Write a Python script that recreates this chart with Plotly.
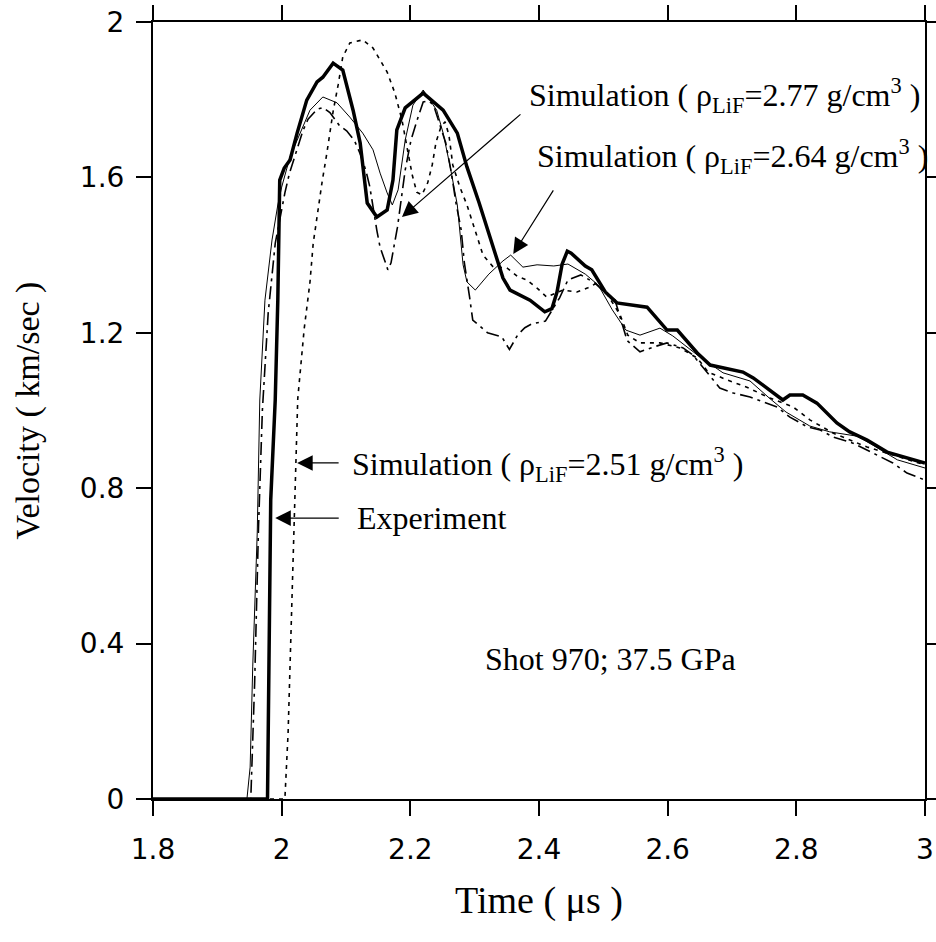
import plotly.graph_objects as go

# Experiment (thick solid)
exp_t = [1.80, 1.978, 1.983, 1.990, 1.994, 1.997, 2.004, 2.013, 2.024, 2.039, 2.055, 2.064, 2.080,
         2.095, 2.111, 2.122, 2.133, 2.148, 2.164, 2.173, 2.179, 2.192, 2.220, 2.251, 2.273, 2.288,
         2.307, 2.327, 2.344, 2.355, 2.386, 2.409, 2.420, 2.428, 2.436, 2.444, 2.450, 2.472, 2.482,
         2.503, 2.521, 2.568, 2.599, 2.615, 2.646, 2.666, 2.717, 2.733, 2.779, 2.790, 2.810, 2.832,
         2.863, 2.883, 2.910, 2.941, 2.972, 3.0]
exp_v = [0.0, 0.0, 0.77, 1.027, 1.284, 1.593, 1.624, 1.645, 1.714, 1.799, 1.846, 1.858, 1.894,
         1.876, 1.773, 1.689, 1.534, 1.498, 1.516, 1.593, 1.722, 1.779, 1.817, 1.773, 1.714, 1.627,
         1.534, 1.429, 1.341, 1.310, 1.284, 1.254, 1.262, 1.305, 1.377, 1.410, 1.405, 1.372, 1.362,
         1.305, 1.277, 1.266, 1.207, 1.207, 1.148, 1.117, 1.099, 1.084, 1.027, 1.040, 1.040, 1.019,
         0.968, 0.945, 0.924, 0.893, 0.878, 0.865]

# Simulation rho=2.64 (thin solid)
s264_t = [1.80, 1.946, 1.951, 1.955, 1.962, 1.966, 1.974, 1.985, 1.994, 2.000, 2.013, 2.029, 2.044,
          2.064, 2.086, 2.106, 2.126, 2.142, 2.153, 2.164, 2.172, 2.181, 2.192, 2.204, 2.220, 2.241,
          2.251, 2.262, 2.273, 2.282, 2.288, 2.301, 2.322, 2.344, 2.356, 2.375, 2.397, 2.423, 2.445,
          2.472, 2.492, 2.514, 2.535, 2.557, 2.588, 2.608, 2.646, 2.686, 2.728, 2.758, 2.784, 2.821,
          2.852, 2.894, 2.919, 2.957, 3.0]
s264_v = [0.0, 0.0, 0.082, 0.340, 0.685, 1.027, 1.284, 1.439, 1.529, 1.575, 1.653, 1.714, 1.773,
          1.807, 1.792, 1.755, 1.714, 1.671, 1.611, 1.560, 1.529, 1.568, 1.696, 1.786, 1.825, 1.773,
          1.714, 1.627, 1.529, 1.375, 1.331, 1.310, 1.351, 1.385, 1.400, 1.369, 1.375, 1.372, 1.377,
          1.351, 1.323, 1.259, 1.207, 1.194, 1.212, 1.192, 1.143, 1.097, 1.076, 1.032, 0.996, 0.960,
          0.945, 0.934, 0.911, 0.873, 0.852]

# Simulation rho=2.51 (dotted)
s251_t = [1.80, 2.005, 2.010, 2.016, 2.021, 2.025, 2.035, 2.044, 2.049, 2.055, 2.063, 2.070, 2.075,
          2.080, 2.088, 2.095, 2.106, 2.126, 2.142, 2.164, 2.176, 2.187, 2.195, 2.203, 2.210, 2.218,
          2.227, 2.234, 2.240, 2.248, 2.254, 2.260, 2.266, 2.277, 2.288, 2.301, 2.313, 2.329, 2.350,
          2.366, 2.381, 2.397, 2.412, 2.437, 2.459, 2.475, 2.490, 2.507, 2.526, 2.538, 2.557, 2.588,
          2.619, 2.646, 2.663, 2.692, 2.723, 2.759, 2.795, 2.821, 2.857, 2.910, 2.961, 3.0]
s251_v = [0.0, 0.0, 0.17, 0.51, 0.77, 1.03, 1.21, 1.33, 1.43, 1.50, 1.59, 1.66, 1.72,
          1.77, 1.84, 1.91, 1.946, 1.954, 1.933, 1.871, 1.817, 1.748, 1.676, 1.606, 1.562, 1.555,
          1.586, 1.632, 1.691, 1.732, 1.743, 1.709, 1.632, 1.575, 1.529, 1.465, 1.400, 1.369, 1.367,
          1.346, 1.336, 1.315, 1.292, 1.310, 1.305, 1.315, 1.328, 1.297, 1.246, 1.194, 1.174, 1.174,
          1.161, 1.135, 1.099, 1.079, 1.060, 1.032, 1.009, 0.976, 0.942, 0.906, 0.880, 0.860]

# Simulation rho=2.77 (dash-dot)
s277_t = [1.80, 1.952, 1.958, 1.964, 1.970, 1.979, 1.990, 2.005, 2.012, 2.022, 2.033, 2.041, 2.055,
          2.064, 2.075, 2.090, 2.101, 2.113, 2.122, 2.131, 2.137, 2.148, 2.153, 2.160, 2.165, 2.170,
          2.174, 2.180, 2.192, 2.201, 2.212, 2.220, 2.228, 2.236, 2.247, 2.255, 2.263, 2.271, 2.279,
          2.284, 2.292, 2.297, 2.320, 2.342, 2.354, 2.367, 2.378, 2.389, 2.410, 2.424, 2.432, 2.445,
          2.465, 2.487, 2.503, 2.518, 2.537, 2.557, 2.577, 2.599, 2.624, 2.639, 2.681, 2.702, 2.728,
          2.770, 2.790, 2.817, 2.837, 2.857, 2.888, 2.950, 2.972, 3.0]
s277_v = [0.0, 0.0, 0.30, 0.70, 1.00, 1.25, 1.43, 1.56, 1.61, 1.66, 1.72, 1.75, 1.775,
          1.78, 1.767, 1.733, 1.72, 1.695, 1.661, 1.617, 1.576, 1.463, 1.420, 1.387, 1.362, 1.38,
          1.420, 1.472, 1.619, 1.696, 1.755, 1.794, 1.797, 1.787, 1.730, 1.689, 1.619, 1.534, 1.465,
          1.380, 1.293, 1.233, 1.200, 1.190, 1.157, 1.195, 1.213, 1.223, 1.230, 1.266, 1.290, 1.336,
          1.349, 1.328, 1.303, 1.285, 1.180, 1.151, 1.163, 1.174, 1.161, 1.143, 1.058, 1.045, 1.035,
          1.009, 0.983, 0.958, 0.950, 0.932, 0.916, 0.865, 0.839, 0.821]

x_ticks = [1.8, 2.0, 2.2, 2.4, 2.6, 2.8, 3.0]
x_tick_labels = ["1.8", "2", "2.2", "2.4", "2.6", "2.8", "3"]
y_ticks = [0, 0.4, 0.8, 1.2, 1.6, 2.0]
y_tick_labels = ["0", "0.4", "0.8", "1.2", "1.6", "2"]

serif = "Liberation Serif"
sans = "DejaVu Sans"

fig = go.Figure()
fig.add_trace(go.Scatter(x=s277_t, y=s277_v, mode="lines",
                         line=dict(color="black", width=1.6, dash="13px,5px,3px,5px")))
fig.add_trace(go.Scatter(x=s251_t, y=s251_v, mode="lines",
                         line=dict(color="black", width=1.6, dash="4px,5px")))
fig.add_trace(go.Scatter(x=s264_t, y=s264_v, mode="lines",
                         line=dict(color="black", width=1)))
fig.add_trace(go.Scatter(x=exp_t, y=exp_v, mode="lines",
                         line=dict(color="black", width=3.5)))

lab_font = dict(family=serif, size=32, color="black")
arrow_style = dict(showarrow=True, arrowhead=2, arrowsize=2.6, arrowwidth=1.2,
                   arrowcolor="black", text="")
annotations = [
    # arrows
    dict(x=2.187, y=1.498, ax=120, ay=-104, **arrow_style),
    dict(x=2.360, y=1.403, ax=41, ay=-65, **arrow_style),
    dict(x=2.024, y=0.865, ax=43, ay=0, **arrow_style),
    dict(x=1.990, y=0.723, ax=65, ay=0, **arrow_style),
    # labels
    dict(x=2.381, y=1.81, xanchor="left", yanchor="middle", showarrow=False, font=lab_font,
         text="Simulation ( ρ<sub>LiF</sub>=2.77 g/cm<sup>3</sup> )"),
    dict(x=2.394, y=1.655, xanchor="left", yanchor="middle", showarrow=False, font=lab_font,
         text="Simulation ( ρ<sub>LiF</sub>=2.64 g/cm<sup>3</sup> )"),
    dict(x=2.106, y=0.862, xanchor="left", yanchor="middle", showarrow=False, font=lab_font,
         text="Simulation ( ρ<sub>LiF</sub>=2.51 g/cm<sup>3</sup> )"),
    dict(x=2.114, y=0.723, xanchor="left", yanchor="middle", showarrow=False, font=lab_font,
         text="Experiment"),
    dict(x=2.313, y=0.36, xanchor="left", yanchor="middle", showarrow=False, font=lab_font,
         text="Shot 970; 37.5 GPa"),
]

axis_common = dict(showline=True, linecolor="black", linewidth=2, mirror="ticks",
                   ticks="outside", ticklen=15, tickwidth=2, tickcolor="black",
                   showgrid=False, zeroline=False, automargin=False,
                   ticklabeloverflow="allow",
                   tickfont=dict(family=sans, size=28, color="black"))

fig.update_layout(
    width=936, height=942,
    margin=dict(l=153, r=11, t=22, b=143),
    plot_bgcolor="white", paper_bgcolor="white",
    showlegend=False,
    annotations=annotations,
    xaxis=dict(range=[1.8, 3.0], tickvals=x_ticks, ticktext=x_tick_labels,
               ticklabelstandoff=9,
               title=dict(text="Time ( μs )", font=dict(family=serif, size=38, color="black"),
                          standoff=22),
               **axis_common),
    yaxis=dict(range=[0, 2.0], tickvals=y_ticks, ticktext=y_tick_labels,
               ticklabelstandoff=6,
               title=dict(text="Velocity ( km/sec )", font=dict(family=serif, size=34, color="black"),
                          standoff=30),
               **axis_common),
)

# drop the page's default body margin so the figure fills the window exactly
fig.write_html("out.html", config={"displayModeBar": False},
               post_script="document.body.style.margin='0';document.body.style.overflow='hidden';")
